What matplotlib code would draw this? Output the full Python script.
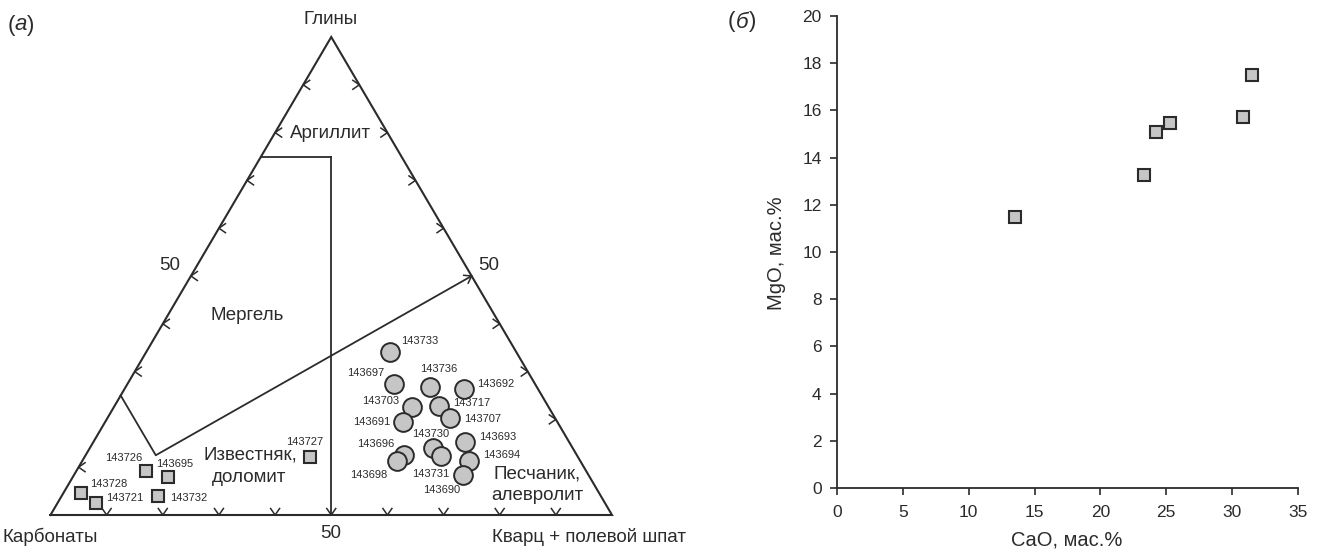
import numpy as np
import matplotlib
matplotlib.use("Agg")
import matplotlib.pyplot as plt

plt.rcParams['font.family'] = ['Liberation Sans', 'DejaVu Sans']

# ---------------- data ----------------
# Ternary panel (а): compositions in % (Carbonates, Quartz+feldspar, Clays)
sand_ids = ["143733", "143697", "143736", "143692", "143703", "143717", "143691",
            "143707", "143730", "143731", "143693", "143694", "143690", "143696", "143698"]
sand_carb = [22.5, 25.1, 19.0, 13.2, 24.3, 19.4, 27.5, 18.8, 24.9, 24.3, 18.6, 19.8, 22.3, 30.7, 32.6]
sand_qtz = [43.4, 47.5, 54.2, 60.5, 53.2, 57.8, 53.0, 61.0, 61.0, 63.3, 66.2, 68.9, 69.3, 56.7, 56.1]
sand_clay = [34.1, 27.4, 26.8, 26.3, 22.5, 22.8, 19.5, 20.2, 14.1, 12.4, 15.2, 11.3, 8.4, 12.6, 11.3]

carb_ids = ["143726", "143695", "143728", "143721", "143732", "143727"]
carb_carb = [78.3, 75.1, 92.3, 90.6, 78.8, 47.7]
carb_qtz = [12.4, 17.0, 3.0, 6.8, 17.2, 40.1]
carb_clay = [9.3, 7.9, 4.7, 2.6, 4.0, 12.2]

# Field boundaries (Carbonates, Quartz, Clays)
bound_vertical = [(50, 50, 0), (12.5, 12.5, 75)]
bound_top = [(12.5, 12.5, 75), (25, 0, 75)]
bound_lower = [(75, 0, 25), (75, 12.5, 12.5), (0, 50, 50)]

tick_vals = [10, 20, 30, 40, 50, 60, 70, 80, 90]
left_tick_vals = [10, 30, 40, 50, 60, 70, 80, 90]
right_tick_vals = [20, 30, 40, 60, 70, 80, 90]

# Panel (б)
cao = [13.5, 23.3, 24.2, 25.3, 30.8, 31.5]
mgo = [11.5, 13.25, 15.1, 15.45, 15.7, 17.5]
x_ticks = [0, 5, 10, 15, 20, 25, 30, 35]
y_ticks = [0, 2, 4, 6, 8, 10, 12, 14, 16, 18, 20]

# ---------------- style/layout ----------------
W, H = 1320, 553
LINE = '#2b2b2b'
TXT = '#2b2b2b'
FILL = '#c6c6c6'
sand_off = [(30, 11), (-28, 11), (9, 18), (32, 5), (-32, 6), (33, 3), (-31, 0),
            (33, -1), (-2, 14), (-10, -18), (33, 5), (33, 6), (-22, -15), (-29, 11), (-29, -14)]
carb_off = [(-23, 13), (7, 13), (28, 9), (29, 5), (30, -2), (-5, 15)]

fig = plt.figure(figsize=(W / 100, H / 100), dpi=100)

# ternary axes: base from px 50.5 to 612 at y=515, apex at y=37
BL, BR, BY, TY = 50.5, 612.0, 515.0, 37.0
PXX = (BR - BL) / 100.0
PXY = (BY - TY) / 100.0
ax = fig.add_axes([BL / W, (H - BY) / H, (BR - BL) / W, (BY - TY) / H])
ax.set_xlim(0, 100)
ax.set_ylim(0, 100)
ax.axis('off')


def tern(k, q, c):
    k, q, c = np.asarray(k, float), np.asarray(q, float), np.asarray(c, float)
    s = k + q + c
    q, c = q / s * 100, c / s * 100
    return q + c / 2.0, c


def chevron(x, y, ang, size=6.5, spread=4.5):
    a = np.deg2rad(ang)
    d = np.array([np.cos(a), np.sin(a)])
    p = np.array([-np.sin(a), np.cos(a)])
    pts = []
    for sgn in (1, -1):
        e = -size * d + sgn * spread * p
        pts.append((x + e[0] / PXX, y + e[1] / PXY))
    ax.plot([pts[0][0], x, pts[1][0]], [pts[0][1], y, pts[1][1]],
            color=LINE, lw=1.1, solid_joinstyle='miter', clip_on=False)


# triangle
tx, ty = tern([100, 0, 0, 100], [0, 100, 0, 0], [0, 0, 100, 0])
ax.plot(tx, ty, color=LINE, lw=1.5, clip_on=False, solid_joinstyle='miter')

# boundaries
for seg in (bound_vertical, bound_top, bound_lower):
    k, q, c = zip(*seg)
    sx, sy = tern(k, q, c)
    ax.plot(sx, sy, color=LINE, lw=1.3, clip_on=False)

# ticks (chevrons)
for v in tick_vals:
    x, y = tern(100 - v, v, 0)
    chevron(float(x), float(y), 270)
for v in left_tick_vals:
    x, y = tern(100 - v, 0, v)
    chevron(float(x), float(y), 180)
for v in right_tick_vals:
    x, y = tern(0, 100 - v, v)
    chevron(float(x), float(y), 0)
# arrow at end of lower boundary (on right edge)
k, q, c = zip(*bound_lower[1:])
lx, ly = tern(k, q, c)
ang = np.degrees(np.arctan2((ly[1] - ly[0]) * PXY, (lx[1] - lx[0]) * PXX))
chevron(float(lx[1]), float(ly[1]), ang)

# data points
sx, sy = tern(sand_carb, sand_qtz, sand_clay)
ax.plot(sx, sy, 'o', ms=13.5, mfc=FILL, mec=LINE, mew=1.4, ls='none', clip_on=False, zorder=5)
for i, lab in enumerate(sand_ids):
    ax.annotate(lab, (sx[i], sy[i]), xytext=sand_off[i], textcoords='offset pixels',
                ha='center', va='center', fontsize=8, color=TXT, zorder=6)

cx, cy = tern(carb_carb, carb_qtz, carb_clay)
ax.plot(cx, cy, 's', ms=8, mfc=FILL, mec=LINE, mew=1.5, ls='none', clip_on=False, zorder=5)
for i, lab in enumerate(carb_ids):
    ax.annotate(lab, (cx[i], cy[i]), xytext=carb_off[i], textcoords='offset pixels',
                ha='center', va='center', fontsize=8, color=TXT, zorder=6)


def ftext(px, py, s, **kw):
    kw.setdefault('ha', 'center')
    kw.setdefault('va', 'center')
    kw.setdefault('color', TXT)
    fig.text(px / W, 1 - py / H, s, **kw)


FS = 13.5
ftext(331, 20, "Глины", fontsize=FS)
ftext(2, 537, "Карбонаты", fontsize=FS, ha='left')
ftext(492, 537, "Кварц + полевой шпат", fontsize=FS, ha='left')
ftext(331, 533, "50", fontsize=FS)
ftext(170, 265, "50", fontsize=FS)
ftext(489, 265, "50", fontsize=FS)
ftext(331, 133, "Аргиллит", fontsize=FS,
      bbox=dict(facecolor='white', edgecolor='none', pad=0.5))
ftext(247, 316, "Мергель", fontsize=FS)
ftext(250, 455, "Известняк,", fontsize=FS)
ftext(249, 477, "доломит", fontsize=FS)
ftext(537, 474, "Песчаник,", fontsize=FS)
ftext(537, 496, "алевролит", fontsize=FS)
# panel letters
PF = 16
ftext(11, 25, "(", fontsize=PF)
ftext(21, 25, "а", fontsize=PF, style='italic')
ftext(31, 25, ")", fontsize=PF)
ftext(731, 22, "(", fontsize=PF)
ftext(742, 22, "б", fontsize=PF, style='italic')
ftext(753, 22, ")", fontsize=PF)

# ---------------- panel (б) ----------------
L2, R2, B2, T2 = 837, 1298, 488, 16
ax2 = fig.add_axes([L2 / W, (H - B2) / H, (R2 - L2) / W, (B2 - T2) / H])
ax2.plot(cao, mgo, 's', ms=8.5, mfc=FILL, mec=LINE, mew=1.5, ls='none', clip_on=False)
ax2.set_xlim(0, 35)
ax2.set_ylim(0, 20)
ax2.set_xticks(x_ticks)
ax2.set_yticks(y_ticks)
for s in ('top', 'right'):
    ax2.spines[s].set_visible(False)
for s in ('left', 'bottom'):
    ax2.spines[s].set_linewidth(1.3)
    ax2.spines[s].set_color(LINE)
ax2.tick_params(direction='out', length=5, width=1.2, colors=LINE, labelsize=12.5,
                labelcolor=TXT)
ax2.tick_params(axis='x', pad=7)
ax2.tick_params(axis='y', pad=6)
ftext(1067, 540, "CaO, мас.%", fontsize=14.5)
ftext(777, 253, "MgO, мас.%", fontsize=14.5, rotation=90)

fig.savefig("out.png", dpi=100)
